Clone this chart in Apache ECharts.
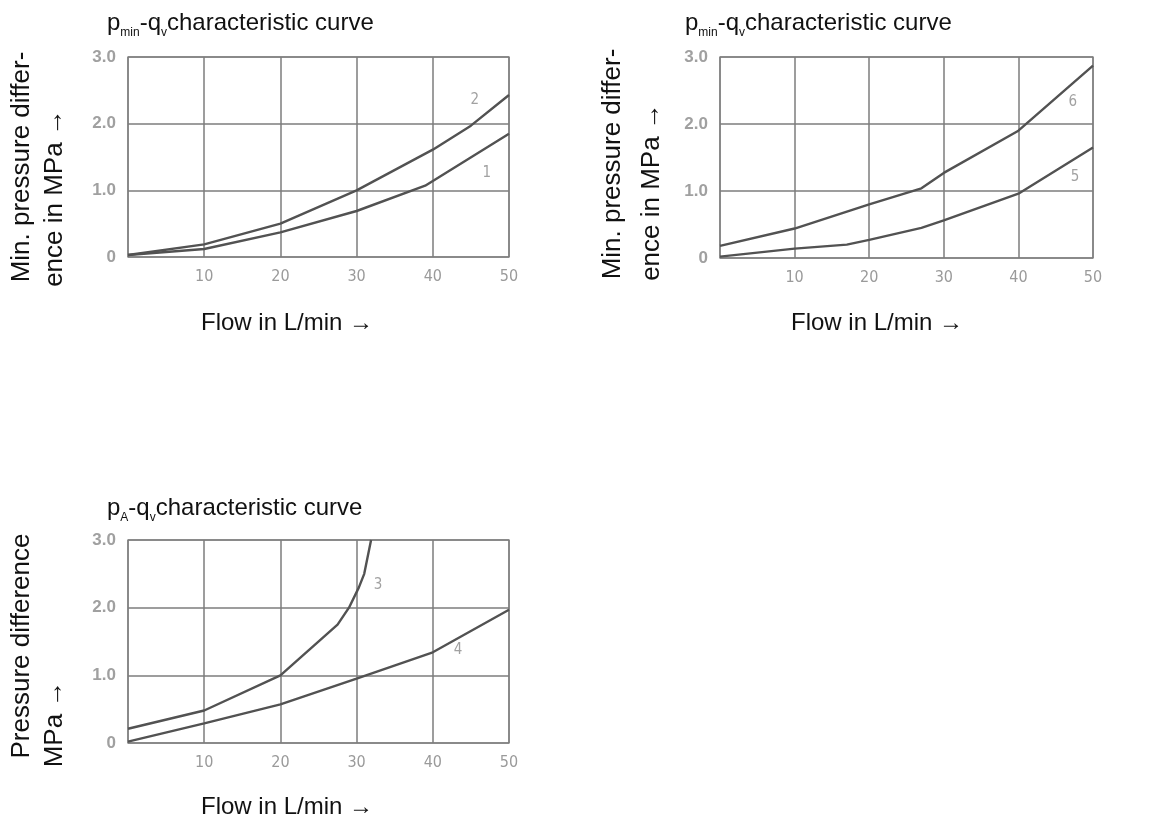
<!DOCTYPE html>
<html>
<head>
<meta charset="utf-8">
<script src="https://cdn.jsdelivr.net/npm/echarts@6/dist/echarts.min.js"></script>
<style>
html,body{margin:0;padding:0;background:#fff;}
#c{width:1150px;height:820px;}
</style>
</head>
<body>
<div id="c"></div>
<script>
// ---- data ----
const xTicks = [0, 10, 20, 30, 40, 50];
const yTicks = [0, 1, 2, 3];
// chart 1 : pmin-qv
const curve1 = [[0,0.03],[10,0.12],[20,0.37],[30,0.69],[39,1.07],[50,1.85]];
const curve2 = [[0,0.03],[10,0.19],[20,0.5],[30,1.0],[40,1.61],[45,1.97],[50,2.43]];
const labels12 = [[45.5,2.35,'2'],[47.1,1.26,'1']];
// chart 2 : pmin-qv
const curve5 = [[0,0.02],[10,0.14],[17,0.2],[20,0.27],[27,0.45],[30,0.56],[40,0.96],[50,1.65]];
const curve6 = [[0,0.18],[10,0.44],[20,0.8],[27,1.04],[30,1.27],[40,1.9],[50,2.87]];
const labels56 = [[47.3,2.33,'6'],[47.6,1.21,'5']];
// chart 3 : pA-qv
const curve3 = [[0,0.21],[10,0.48],[20,1.0],[27.5,1.75],[29,2.0],[30.3,2.3],[31,2.5],[31.9,3.0]];
const curve4 = [[0,0.02],[10,0.29],[20,0.57],[30,0.95],[40,1.34],[50,1.97]];
const labels34 = [[32.8,2.33,'3'],[43.3,1.37,'4']];

const titles = [
  ['p','min','-q','v','characteristic curve'],
  ['p','min','-q','v','characteristic curve'],
  ['p','A','-q','v','characteristic curve']
];
const yNames = [
  ['Min. pressure differ-','ence in MPa \u2192'],
  ['Min. pressure differ-','ence in MPa \u2192'],
  ['Pressure difference','MPa \u2192']
];
const xName = 'Flow in L/min \u2192';

// ---- styles ----
const FONT = "'Liberation Sans', Arial, sans-serif";
const NARROW = "'Liberation Sans Narrow', 'DejaVu Sans Condensed', sans-serif";
const LINE = '#525252';
const GRIDC = '#7c7c7c';

const grids = [
  {left:128, top:57, width:381, height:200},
  {left:720, top:57, width:373, height:201},
  {left:128, top:540, width:381, height:203}
];

function mkTitle(parts, left, top){
  return {
    left:left, top:top, padding:0,
    text:'{a|'+parts[0]+'}{s|'+parts[1]+'}{a|'+parts[2]+'}{s|'+parts[3]+'}{a|'+parts[4]+'}',
    textStyle:{
      fontWeight:'normal',
      rich:{
        a:{fontSize:24, fontWeight:'normal', fontFamily:FONT, color:'#111', lineHeight:32, verticalAlign:'middle'},
        s:{fontSize:12, fontWeight:'normal', fontFamily:FONT, color:'#111', lineHeight:12, verticalAlign:'bottom'}
      }
    }
  };
}

const xAxes = grids.map((g,i)=>({
  type:'value', gridIndex:i, min:xTicks[0], max:xTicks[xTicks.length-1], interval:10,
  axisLine:{show:false}, axisTick:{show:false},
  splitLine:{show:true, lineStyle:{color:GRIDC, width:1.5}},
  axisLabel:{show:true, margin:12, fontSize:16, fontFamily:NARROW, color:'#9a9a9a',
    formatter:v=> v===0 ? '' : String(v)}
}));
const yAxes = grids.map((g,i)=>({
  type:'value', gridIndex:i, min:yTicks[0], max:yTicks[yTicks.length-1], interval:1,
  axisLine:{show:false}, axisTick:{show:false},
  splitLine:{show:true, lineStyle:{color:GRIDC, width:1.5}},
  axisLabel:{show:true, margin:12, fontSize:17, fontWeight:'bold', fontFamily:FONT, color:'#a0a0a0',
    formatter:v=> v===0 ? '0' : v.toFixed(1)}
}));

function lineSeries(data, idx){
  return {type:'line', xAxisIndex:idx, yAxisIndex:idx, data:data, showSymbol:false, symbol:'none',
    smooth:false, silent:true, lineStyle:{color:LINE, width:2.4}, z:3};
}
function labelSeries(lbls, idx){
  return {type:'scatter', xAxisIndex:idx, yAxisIndex:idx, symbolSize:0, silent:true,
    data:lbls.map(l=>({value:[l[0],l[1]], name:l[2]})),
    label:{show:true, position:'inside', formatter:p=>p.name, fontSize:15, fontFamily:NARROW, color:'#8a8a8a'}};
}

function vText(text, x, y){
  return {type:'text', x:x, y:y, rotation:Math.PI/2,
    style:{text:text, font:'26px '+FONT, fill:'#111', align:'center', verticalAlign:'middle'}};
}
function hText(text, x, y){
  return {type:'text', x:x, y:y,
    style:{text:text, font:'24px '+FONT, fill:'#111', align:'center', verticalAlign:'middle'}};
}

const option = {
  backgroundColor:'#fff',
  animation:false,
  title:[mkTitle(titles[0],107,7), mkTitle(titles[1],685,7), mkTitle(titles[2],107,492)],
  grid:grids.map(g=>Object.assign({show:true, borderColor:'#999', borderWidth:1.5, backgroundColor:'transparent'}, g)),
  xAxis:xAxes,
  yAxis:yAxes,
  series:[
    lineSeries(curve1,0), lineSeries(curve2,0), labelSeries(labels12,0),
    lineSeries(curve5,1), lineSeries(curve6,1), labelSeries(labels56,1),
    lineSeries(curve3,2), lineSeries(curve4,2), labelSeries(labels34,2)
  ],
  graphic:[
    vText(yNames[0][0], 22, 167), vText(yNames[0][1], 55, 198),
    vText(yNames[1][0], 613, 164), vText(yNames[1][1], 652, 192),
    vText(yNames[2][0], 22, 646), vText(yNames[2][1], 55, 724),
    hText(xName, 287, 323), hText(xName, 877, 323), hText(xName, 287, 807)
  ]
};
echarts.init(document.getElementById('c')).setOption(option);
</script>
</body>
</html>
